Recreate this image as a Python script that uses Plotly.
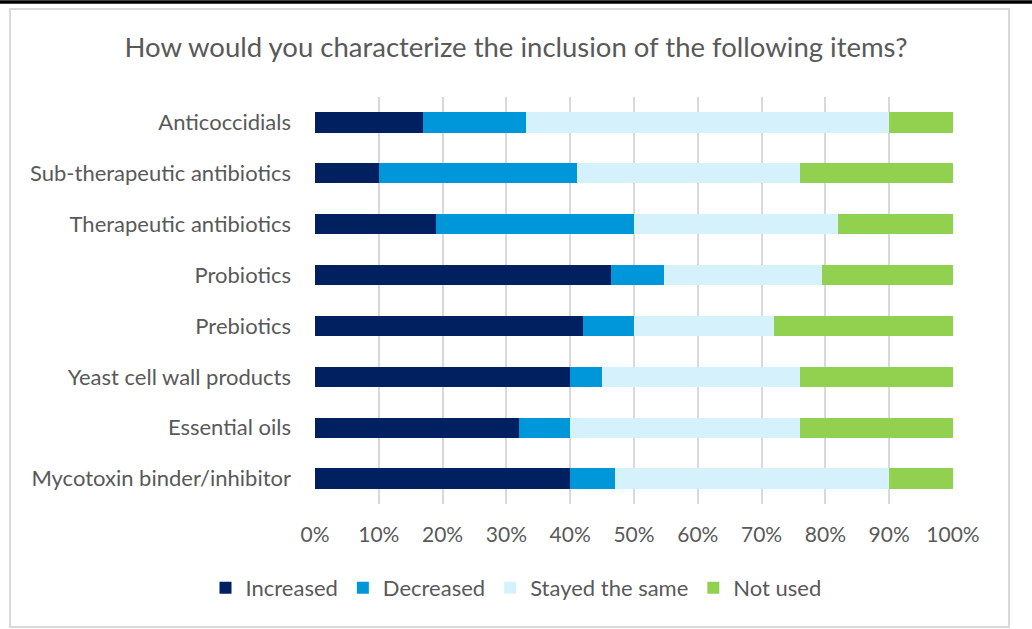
import plotly.graph_objects as go

categories = ["Anticoccidials", "Sub-therapeutic antibiotics", "Therapeutic antibiotics",
              "Probiotics", "Prebiotics", "Yeast cell wall products", "Essential oils",
              "Mycotoxin binder/inhibitor"]
increased = [17, 10, 19, 46.4, 42, 40, 32, 40]
decreased = [16, 31, 31, 8.3, 8, 5, 8, 7]
stayed = [57, 35, 32, 24.8, 22, 31, 36, 43]
not_used = [10, 24, 18, 20.5, 28, 24, 24, 10]
series_names = ["Increased", "Decreased", "Stayed the same", "Not used"]
colors = ["#002060", "#0097DA", "#D5F1FC", "#92D050"]
tick_vals = [0, 10, 20, 30, 40, 50, 60, 70, 80, 90, 100]
tick_text = [f"{v}%" for v in tick_vals]

W, H = 1032, 629
L, R, T, B = 315, 79, 97, 125
pw, ph = W - L - R, H - T - B

fig = go.Figure()
for name, vals, c in zip(series_names, [increased, decreased, stayed, not_used], colors):
    fig.add_trace(go.Bar(y=categories, x=vals, name=name, orientation="h",
                         marker=dict(color=c, line=dict(width=0)), width=0.4))

def px2x(p):
    return (p - L) / pw

def px2y(p):
    return 1 - (p - T) / ph

font = "Lato, Open Sans, sans-serif"
grey = "#595959"
fig.update_layout(
    width=W, height=H,
    margin=dict(l=L, r=R, t=T, b=B),
    barmode="stack",
    plot_bgcolor="white", paper_bgcolor="white",
    font=dict(family=font, color=grey, size=22),
    title=dict(text="How would you characterize the inclusion of the following items?",
               x=0.5, xref="container", xanchor="center", y=1 - 47 / H, yanchor="middle",
               font=dict(size=27.5, color=grey, family=font)),
    xaxis=dict(range=[0, 100], tickvals=tick_vals, ticktext=tick_text,
               showgrid=True, gridcolor="#D9D9D9", gridwidth=1.5, zeroline=False,
               showline=False, ticks="", ticklabelstandoff=16,
               tickfont=dict(size=21, color=grey)),
    yaxis=dict(categoryorder="array", categoryarray=categories[::-1],
               showgrid=False, zeroline=False, showline=False, ticks="",
               ticklabelstandoff=23, tickfont=dict(size=22, color=grey)),
    legend=dict(orientation="h", x=0.5, xref="container", xanchor="center",
                y=1 - 588 / H, yref="container", yanchor="middle",
                font=dict(size=22, color=grey), traceorder="normal",
                itemwidth=30),
    shapes=[
        dict(type="rect", xref="paper", yref="paper",
             x0=px2x(10), x1=px2x(1009), y0=px2y(627), y1=px2y(9),
             line=dict(color="#D9D9D9", width=2), fillcolor="rgba(0,0,0,0)", layer="below"),
        dict(type="line", xref="paper", yref="paper",
             x0=px2x(0), x1=px2x(W), y0=px2y(2), y1=px2y(2),
             line=dict(color="black", width=3.5)),
    ],
)
fig.write_html("out.html", config={"displayModeBar": False},
               post_script="document.body.style.margin='0';document.body.style.padding='0';")
